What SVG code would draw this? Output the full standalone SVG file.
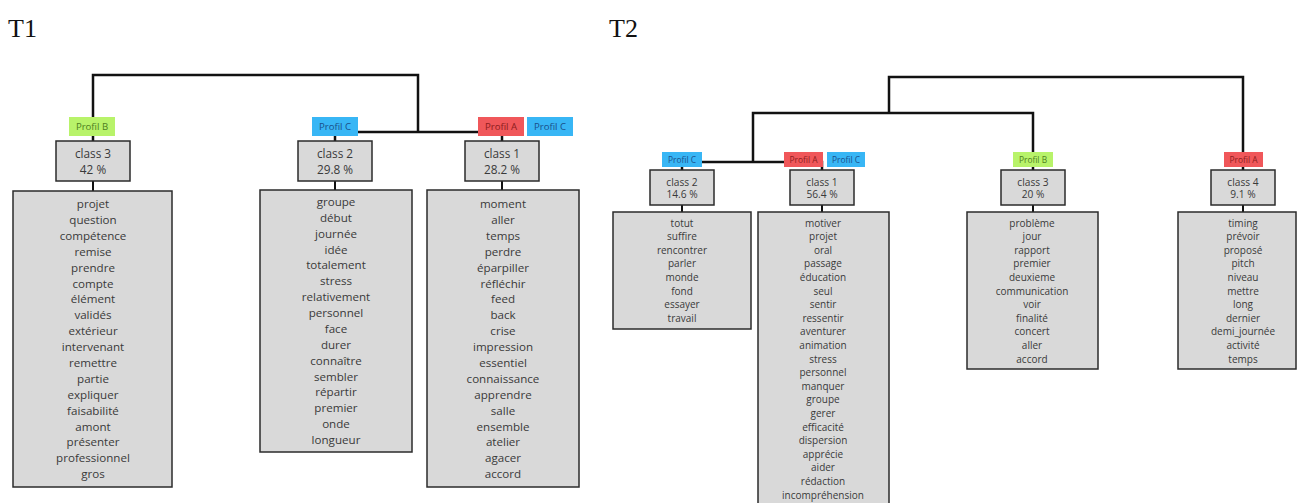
<svg xmlns="http://www.w3.org/2000/svg" width="1297" height="503" viewBox="0 0 1297 503">
<style>
.title{font-family:"Liberation Serif","Times New Roman",serif;font-size:26px;fill:#111}
.box{fill:#d9d9d9;stroke:#2b2b2b;stroke-width:1.5}
.t{font-family:"Open Sans","Liberation Sans",sans-serif;fill:#3a3a3a;text-anchor:middle}
.t1{font-size:11.6px}
.t2{font-size:10px}
.c1{font-size:11.8px}
.c2{font-size:10.2px}
.pl{font-family:"Open Sans","Liberation Sans",sans-serif;text-anchor:middle}
.pl1{font-size:9.6px}
.pl2{font-size:8.4px}
.pa{fill:#f0575a}.pat{fill:#8c1c1c}
.pb{fill:#b8f36a}.pbt{fill:#4d7f1e}
.pc{fill:#38b6f5}.pct{fill:#1a4f8a}
.ln{fill:none;stroke:#111;stroke-width:2.5}
.lk{fill:none;stroke:#111;stroke-width:2}
</style>
<rect width="1297" height="503" fill="#fff"/>
<text class="title" x="8" y="37">T1</text>
<text class="title" x="609" y="37">T2</text>

<g id="connectors">
<path class="ln" d="M93,141 V75 H418 V132"/>
<path class="ln" d="M335,141 V132 H502 V141"/>
<path class="lk" d="M93,181 V191 M335,181 V190 M502,181 V190"/>
<path class="ln" d="M889,113 V77 H1243 V170"/>
<path class="ln" d="M753,162 V113 H1033 V170"/>
<path class="ln" d="M682,170 V162 H822 V170"/>
<path class="lk" d="M682,205 V212 M822,205 V212 M1033,205 V212 M1243,205 V212"/>
</g>

<!-- T1 class 3 -->
<g id="t1-class3">
<rect class="pb" x="69" y="117" width="46" height="19"/>
<text class="pl pl1 pbt" x="92" y="130">Profil B</text>
<rect class="box" x="56" y="141" width="74" height="40"/>
<text class="t c1" x="93" y="157.5">class 3</text>
<text class="t c1" x="93" y="173.5">42 %</text>
<rect class="box" x="13" y="191" width="159" height="296"/>
<text class="t t1" x="93" y="208"><tspan x="93">projet</tspan><tspan x="93" dy="15.9">question</tspan><tspan x="93" dy="15.9">compétence</tspan><tspan x="93" dy="15.9">remise</tspan><tspan x="93" dy="15.9">prendre</tspan><tspan x="93" dy="15.9">compte</tspan><tspan x="93" dy="15.9">élément</tspan><tspan x="93" dy="15.9">validés</tspan><tspan x="93" dy="15.9">extérieur</tspan><tspan x="93" dy="15.9">intervenant</tspan><tspan x="93" dy="15.9">remettre</tspan><tspan x="93" dy="15.9">partie</tspan><tspan x="93" dy="15.9">expliquer</tspan><tspan x="93" dy="15.9">faisabilité</tspan><tspan x="93" dy="15.9">amont</tspan><tspan x="93" dy="15.9">présenter</tspan><tspan x="93" dy="15.9">professionnel</tspan><tspan x="93" dy="15.9">gros</tspan></text>
</g>

<!-- T1 class 2 -->
<g id="t1-class2">
<rect class="pc" x="312" y="117" width="46" height="19"/>
<text class="pl pl1 pct" x="335" y="130">Profil C</text>
<rect class="box" x="298" y="141" width="74" height="40"/>
<text class="t c1" x="335" y="157.5">class 2</text>
<text class="t c1" x="335" y="173.5">29.8 %</text>
<rect class="box" x="260" y="190" width="152" height="262"/>
<text class="t t1" x="336" y="206"><tspan x="336">groupe</tspan><tspan x="336" dy="15.87">début</tspan><tspan x="336" dy="15.87">journée</tspan><tspan x="336" dy="15.87">idée</tspan><tspan x="336" dy="15.87">totalement</tspan><tspan x="336" dy="15.87">stress</tspan><tspan x="336" dy="15.87">relativement</tspan><tspan x="336" dy="15.87">personnel</tspan><tspan x="336" dy="15.87">face</tspan><tspan x="336" dy="15.87">durer</tspan><tspan x="336" dy="15.87">connaître</tspan><tspan x="336" dy="15.87">sembler</tspan><tspan x="336" dy="15.87">répartir</tspan><tspan x="336" dy="15.87">premier</tspan><tspan x="336" dy="15.87">onde</tspan><tspan x="336" dy="15.87">longueur</tspan></text>
</g>

<!-- T1 class 1 -->
<g id="t1-class1">
<rect class="pa" x="478" y="117" width="46" height="19"/>
<text class="pl pl1 pat" x="501" y="130">Profil A</text>
<rect class="pc" x="527" y="117" width="46" height="19"/>
<text class="pl pl1 pct" x="550" y="130">Profil C</text>
<rect class="box" x="465" y="141" width="74" height="40"/>
<text class="t c1" x="502" y="157.5">class 1</text>
<text class="t c1" x="502" y="173.5">28.2 %</text>
<rect class="box" x="427" y="190" width="152" height="297"/>
<text class="t t1" x="503" y="208"><tspan x="503">moment</tspan><tspan x="503" dy="15.9">aller</tspan><tspan x="503" dy="15.9">temps</tspan><tspan x="503" dy="15.9">perdre</tspan><tspan x="503" dy="15.9">éparpiller</tspan><tspan x="503" dy="15.9">réfléchir</tspan><tspan x="503" dy="15.9">feed</tspan><tspan x="503" dy="15.9">back</tspan><tspan x="503" dy="15.9">crise</tspan><tspan x="503" dy="15.9">impression</tspan><tspan x="503" dy="15.9">essentiel</tspan><tspan x="503" dy="15.9">connaissance</tspan><tspan x="503" dy="15.9">apprendre</tspan><tspan x="503" dy="15.9">salle</tspan><tspan x="503" dy="15.9">ensemble</tspan><tspan x="503" dy="15.9">atelier</tspan><tspan x="503" dy="15.9">agacer</tspan><tspan x="503" dy="15.9">accord</tspan></text>
</g>

<!-- T2 class 2 -->
<g id="t2-class2">
<rect class="pc" x="662" y="152" width="40" height="15"/>
<text class="pl pl2 pct" x="682" y="162.8">Profil C</text>
<rect class="box" x="650" y="170" width="64" height="35"/>
<text class="t c2" x="682" y="185.5">class 2</text>
<text class="t c2" x="682" y="198">14.6 %</text>
<rect class="box" x="613" y="212" width="138" height="117"/>
<text class="t t2" x="682" y="226.5"><tspan x="682">totut</tspan><tspan x="682" dy="13.6">suffire</tspan><tspan x="682" dy="13.6">rencontrer</tspan><tspan x="682" dy="13.6">parler</tspan><tspan x="682" dy="13.6">monde</tspan><tspan x="682" dy="13.6">fond</tspan><tspan x="682" dy="13.6">essayer</tspan><tspan x="682" dy="13.6">travail</tspan></text>
</g>

<!-- T2 class 1 -->
<g id="t2-class1">
<rect class="pa" x="784" y="152" width="39" height="15"/>
<text class="pl pl2 pat" x="803.5" y="162.8">Profil A</text>
<rect class="pc" x="827" y="152" width="38" height="15"/>
<text class="pl pl2 pct" x="846" y="162.8">Profil C</text>
<rect class="box" x="790" y="170" width="64" height="35"/>
<text class="t c2" x="822" y="185.5">class 1</text>
<text class="t c2" x="822" y="198">56.4 %</text>
<rect class="box" x="758" y="212" width="131" height="300"/>
<text class="t t2" x="823" y="226.5"><tspan x="823">motiver</tspan><tspan x="823" dy="13.6">projet</tspan><tspan x="823" dy="13.6">oral</tspan><tspan x="823" dy="13.6">passage</tspan><tspan x="823" dy="13.6">éducation</tspan><tspan x="823" dy="13.6">seul</tspan><tspan x="823" dy="13.6">sentir</tspan><tspan x="823" dy="13.6">ressentir</tspan><tspan x="823" dy="13.6">aventurer</tspan><tspan x="823" dy="13.6">animation</tspan><tspan x="823" dy="13.6">stress</tspan><tspan x="823" dy="13.6">personnel</tspan><tspan x="823" dy="13.6">manquer</tspan><tspan x="823" dy="13.6">groupe</tspan><tspan x="823" dy="13.6">gerer</tspan><tspan x="823" dy="13.6">efficacité</tspan><tspan x="823" dy="13.6">dispersion</tspan><tspan x="823" dy="13.6">apprécie</tspan><tspan x="823" dy="13.6">aider</tspan><tspan x="823" dy="13.6">rédaction</tspan><tspan x="823" dy="13.6">incompréhension</tspan></text>
</g>

<!-- T2 class 3 -->
<g id="t2-class3">
<rect class="pb" x="1013" y="152" width="40" height="15"/>
<text class="pl pl2 pbt" x="1033" y="162.8">Profil B</text>
<rect class="box" x="1001" y="170" width="64" height="35"/>
<text class="t c2" x="1033" y="185.5">class 3</text>
<text class="t c2" x="1033" y="198">20 %</text>
<rect class="box" x="967" y="212" width="131" height="157"/>
<text class="t t2" x="1032" y="226.5"><tspan x="1032">problème</tspan><tspan x="1032" dy="13.6">jour</tspan><tspan x="1032" dy="13.6">rapport</tspan><tspan x="1032" dy="13.6">premier</tspan><tspan x="1032" dy="13.6">deuxieme</tspan><tspan x="1032" dy="13.6">communication</tspan><tspan x="1032" dy="13.6">voir</tspan><tspan x="1032" dy="13.6">finalité</tspan><tspan x="1032" dy="13.6">concert</tspan><tspan x="1032" dy="13.6">aller</tspan><tspan x="1032" dy="13.6">accord</tspan></text>
</g>

<!-- T2 class 4 -->
<g id="t2-class4">
<rect class="pa" x="1224" y="152" width="39" height="15"/>
<text class="pl pl2 pat" x="1243.5" y="162.8">Profil A</text>
<rect class="box" x="1211" y="170" width="64" height="35"/>
<text class="t c2" x="1243" y="185.5">class 4</text>
<text class="t c2" x="1243" y="198">9.1 %</text>
<rect class="box" x="1178" y="212" width="118" height="157"/>
<text class="t t2" x="1243" y="226.5"><tspan x="1243">timing</tspan><tspan x="1243" dy="13.6">prévoir</tspan><tspan x="1243" dy="13.6">proposé</tspan><tspan x="1243" dy="13.6">pitch</tspan><tspan x="1243" dy="13.6">niveau</tspan><tspan x="1243" dy="13.6">mettre</tspan><tspan x="1243" dy="13.6">long</tspan><tspan x="1243" dy="13.6">dernier</tspan><tspan x="1243" dy="13.6">demi_journée</tspan><tspan x="1243" dy="13.6">activité</tspan><tspan x="1243" dy="13.6">temps</tspan></text>
</g>
</svg>
